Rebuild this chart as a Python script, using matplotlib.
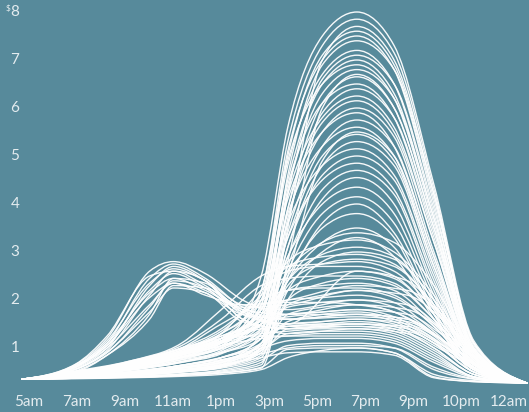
import numpy as np
import matplotlib
matplotlib.use("Agg")
import matplotlib.pyplot as plt
from matplotlib.path import Path
from matplotlib.patches import PathPatch

# every day starts at 5am and ends at 12am at the same price
START_HOUR, END_HOUR = 5, 24
START_VALUE, END_VALUE = 0.35, 0.27

x_labels = ["5am", "7am", "9am", "11am", "1pm", "3pm", "5pm", "7pm", "9pm", "10pm", "12am"]
y_labels = [1, 2, 3, 4, 5, 6, 7, 8]

# sample hours for the days below (between start and end)
evening_hours = [7, 9, 11, 12.5, 14, 15, 16.3, 17.6, 19, 20.5, 22]
morning_hours = [7, 8.2, 9.8, 10.7, 11.9, 13.3, 15, 17.6, 19.5, 21, 22.5]

# days with a big evening peak
peak_days = [
    [0.45, 0.6, 0.85, 1.1, 2.5, 5.6, 7.5, 8.0, 7.3, 4.4, 1.15],
    [0.48, 0.65, 0.9, 1.2, 2.2, 5.3, 7.3, 7.85, 7.15, 4.3, 1.1],
    [0.37, 0.4, 0.45, 0.5, 0.65, 3.5, 7.0, 7.7, 7.0, 4.2, 1.1],
    [0.42, 0.55, 0.75, 0.95, 1.9, 5.0, 7.1, 7.6, 6.9, 4.2, 1.1],
    [0.5, 0.7, 1.0, 1.3, 2.1, 5.1, 7.0, 7.5, 6.8, 4.0, 1.0],
    [0.4, 0.47, 0.58, 0.7, 1.3, 4.6, 6.9, 7.4, 6.8, 4.1, 1.1],
    [0.46, 0.62, 0.88, 1.15, 2.0, 4.8, 6.7, 7.2, 6.5, 3.8, 1.0],
    [0.38, 0.42, 0.5, 0.6, 1.0, 4.2, 6.6, 7.1, 6.5, 3.9, 1.05],
    [0.47, 0.64, 0.9, 1.2, 1.8, 4.5, 6.5, 7.0, 6.3, 3.7, 0.95],
    [0.45, 0.6, 0.82, 1.05, 2.2, 4.9, 6.5, 6.9, 6.2, 3.6, 0.95],
    [0.5, 0.68, 0.95, 1.25, 1.7, 4.3, 6.3, 6.8, 6.2, 3.7, 1.0],
    [0.37, 0.39, 0.43, 0.48, 0.58, 2.8, 6.0, 6.7, 6.0, 3.5, 0.95],
    [0.41, 0.5, 0.64, 0.8, 1.2, 3.9, 6.1, 6.65, 6.0, 3.5, 0.95],
    [0.46, 0.62, 0.86, 1.1, 1.9, 4.4, 6.1, 6.5, 5.8, 3.3, 0.9],
    [0.38, 0.43, 0.52, 0.62, 0.9, 3.6, 5.9, 6.4, 5.8, 3.4, 0.9],
    [0.48, 0.66, 0.92, 1.2, 1.8, 4.2, 5.8, 6.25, 5.6, 3.2, 0.85],
    [0.42, 0.53, 0.7, 0.88, 1.4, 3.9, 5.7, 6.15, 5.5, 3.2, 0.9],
    [0.39, 0.45, 0.55, 0.66, 1.1, 3.7, 5.5, 6.0, 5.4, 3.0, 0.85],
    [0.5, 0.7, 0.98, 1.3, 2.0, 4.1, 5.5, 5.9, 5.2, 2.9, 0.8],
    [0.4, 0.48, 0.6, 0.74, 1.0, 3.4, 5.2, 5.75, 5.2, 2.9, 0.85],
    [0.44, 0.58, 0.8, 1.02, 1.7, 3.8, 5.2, 5.6, 5.0, 2.7, 0.8],
    [0.37, 0.4, 0.46, 0.52, 0.7, 2.5, 4.9, 5.5, 5.0, 2.8, 0.8],
    [0.47, 0.64, 0.88, 1.15, 1.5, 3.3, 5.0, 5.45, 4.9, 2.7, 0.8],
    [0.39, 0.45, 0.55, 0.65, 1.0, 3.1, 4.8, 5.3, 4.8, 2.6, 0.75],
    [0.48, 0.66, 0.92, 1.2, 1.8, 3.6, 4.8, 5.15, 4.6, 2.5, 0.75],
    [0.41, 0.5, 0.64, 0.8, 1.2, 3.1, 4.6, 5.0, 4.5, 2.4, 0.7],
    [0.43, 0.57, 0.78, 1.0, 1.6, 3.3, 4.5, 4.85, 4.3, 2.3, 0.7],
    [0.5, 0.68, 0.95, 1.25, 1.5, 2.9, 4.3, 4.7, 4.2, 2.2, 0.65],
    [0.38, 0.42, 0.5, 0.58, 0.8, 2.7, 4.1, 4.55, 4.0, 2.1, 0.65],
    [0.44, 0.58, 0.8, 1.0, 1.5, 2.9, 4.0, 4.35, 3.8, 2.0, 0.6],
    [0.4, 0.47, 0.58, 0.7, 1.1, 2.6, 3.8, 4.15, 3.6, 1.9, 0.6],
    [0.42, 0.55, 0.72, 0.9, 1.2, 2.4, 3.6, 4.0, 3.4, 1.8, 0.55],
    [0.48, 0.66, 0.92, 1.2, 1.5, 2.5, 3.5, 3.8, 3.3, 1.7, 0.55],
    [0.45, 0.6, 0.82, 1.05, 1.4, 2.4, 3.2, 3.5, 3.1, 1.7, 0.55],
    [0.39, 0.44, 0.53, 0.63, 0.95, 2.2, 3.0, 3.3, 2.9, 1.6, 0.5],
]

# days that stay fairly flat through the evening
flat_days = [
    [0.47, 0.63, 0.88, 1.15, 1.6, 2.6, 3.2, 3.4, 3.2, 2.3, 0.9],
    [0.44, 0.58, 0.8, 1.05, 1.8, 2.8, 3.15, 3.25, 3.0, 2.1, 0.85],
    [0.46, 0.62, 0.86, 1.12, 1.5, 2.4, 2.95, 3.1, 2.9, 2.0, 0.8],
    [0.38, 0.42, 0.5, 0.6, 0.85, 2.0, 2.8, 3.0, 2.85, 2.0, 0.8],
    [0.5, 0.7, 1.0, 1.4, 2.1, 2.7, 2.9, 2.95, 2.75, 1.9, 0.8],
    [0.4, 0.48, 0.6, 0.74, 1.1, 2.3, 2.75, 2.85, 2.7, 1.9, 0.75],
    [0.5, 0.72, 1.1, 1.8, 2.5, 2.7, 2.75, 2.8, 2.6, 1.8, 0.75],
    [0.48, 0.66, 0.92, 1.3, 2.2, 2.6, 2.7, 2.7, 2.5, 1.7, 0.7],
    [0.42, 0.53, 0.7, 0.9, 1.3, 2.2, 2.5, 2.6, 2.45, 1.7, 0.7],
    [0.52, 0.72, 1.05, 1.6, 2.3, 2.45, 2.5, 2.5, 2.35, 1.6, 0.65],
    [0.39, 0.45, 0.55, 0.68, 1.0, 2.0, 2.35, 2.45, 2.3, 1.6, 0.65],
    [0.46, 0.62, 0.86, 1.12, 1.7, 2.2, 2.3, 2.35, 2.2, 1.5, 0.65],
    [0.49, 0.68, 0.96, 1.35, 2.0, 2.2, 2.25, 2.25, 2.1, 1.45, 0.6],
    [0.4, 0.48, 0.6, 0.75, 1.05, 1.9, 2.1, 2.2, 2.05, 1.45, 0.6],
    [0.47, 0.64, 0.88, 1.15, 1.6, 2.0, 2.05, 2.1, 1.95, 1.35, 0.6],
    [0.43, 0.55, 0.72, 0.92, 1.35, 1.85, 1.95, 2.0, 1.85, 1.3, 0.55],
    [0.5, 0.7, 1.0, 1.5, 1.9, 1.95, 1.95, 1.9, 1.75, 1.25, 0.55],
    [0.38, 0.43, 0.52, 0.62, 0.95, 1.7, 1.85, 1.9, 1.75, 1.3, 0.6],
    [0.46, 0.62, 0.85, 1.1, 1.5, 1.7, 1.75, 1.8, 1.65, 1.2, 0.55],
    [0.41, 0.5, 0.64, 0.8, 1.1, 1.55, 1.7, 1.75, 1.6, 1.15, 0.5],
    [0.48, 0.66, 0.92, 1.2, 1.55, 1.65, 1.7, 1.7, 1.55, 1.1, 0.5],
    [0.4, 0.47, 0.58, 0.72, 1.05, 1.5, 1.55, 1.6, 1.5, 1.1, 0.5],
    [0.43, 0.56, 0.76, 0.98, 1.25, 1.45, 1.5, 1.55, 1.45, 1.0, 0.45],
    [0.47, 0.64, 0.88, 1.15, 1.4, 1.45, 1.5, 1.5, 1.4, 1.0, 0.45],
    [0.39, 0.44, 0.53, 0.64, 0.9, 1.4, 1.45, 1.45, 1.35, 0.95, 0.45],
    [0.46, 0.62, 0.85, 1.1, 1.3, 1.35, 1.4, 1.4, 1.3, 0.9, 0.4],
    [0.4, 0.47, 0.58, 0.7, 0.95, 1.3, 1.35, 1.35, 1.25, 0.85, 0.4],
    [0.45, 0.6, 0.82, 1.05, 1.2, 1.25, 1.3, 1.3, 1.2, 0.8, 0.4],
    [0.48, 0.66, 0.92, 1.2, 1.25, 1.25, 1.25, 1.25, 1.15, 0.75, 0.4],
    [0.41, 0.5, 0.64, 0.8, 1.0, 1.15, 1.2, 1.2, 1.1, 0.7, 0.38],
    [0.37, 0.4, 0.46, 0.54, 0.75, 1.05, 1.1, 1.1, 1.0, 0.55, 0.35],
    [0.4, 0.49, 0.62, 0.76, 0.88, 1.0, 1.05, 1.05, 1.0, 0.6, 0.36],
    [0.37, 0.39, 0.43, 0.48, 0.6, 0.97, 1.0, 1.0, 0.9, 0.45, 0.32],
    [0.39, 0.45, 0.54, 0.65, 0.8, 0.9, 0.92, 0.92, 0.85, 0.38, 0.3],
    [0.36, 0.38, 0.41, 0.45, 0.55, 0.8, 0.95, 1.0, 0.9, 0.4, 0.3],
]

# days with a late-morning bump
morning_days = [
    [0.65, 1.2, 2.6, 2.8, 2.55, 2.0, 1.7, 1.8, 1.7, 1.2, 0.6],
    [0.6, 1.1, 2.45, 2.75, 2.45, 1.85, 1.6, 1.7, 1.6, 1.1, 0.55],
    [0.58, 1.0, 2.3, 2.7, 2.4, 1.75, 1.5, 2.6, 2.4, 1.5, 0.6],
    [0.62, 1.15, 2.35, 2.65, 2.4, 1.9, 1.8, 2.0, 1.9, 1.3, 0.6],
    [0.55, 0.95, 2.1, 2.6, 2.4, 1.6, 1.4, 1.5, 1.4, 1.0, 0.5],
    [0.6, 1.05, 2.2, 2.55, 2.25, 1.75, 1.6, 1.65, 1.55, 1.1, 0.5],
    [0.5, 0.85, 1.7, 2.45, 2.35, 1.7, 1.5, 1.6, 1.5, 1.1, 0.5],
    [0.63, 1.1, 2.15, 2.45, 2.2, 1.85, 1.9, 2.2, 2.1, 1.5, 0.65],
    [0.55, 0.9, 1.85, 2.4, 2.25, 1.6, 1.3, 1.4, 1.3, 0.9, 0.45],
    [0.6, 1.0, 1.9, 2.35, 2.15, 1.7, 1.6, 1.7, 1.6, 1.1, 0.5],
    [0.52, 0.85, 1.6, 2.3, 2.25, 1.8, 1.45, 1.5, 1.45, 1.0, 0.5],
    [0.62, 1.05, 2.05, 2.35, 2.1, 1.9, 2.0, 2.3, 2.2, 1.6, 0.7],
    [0.56, 0.92, 1.75, 2.25, 2.15, 1.55, 1.4, 1.45, 1.35, 0.95, 0.45],
    [0.66, 1.25, 2.5, 2.6, 2.3, 1.8, 1.7, 1.9, 1.8, 1.3, 0.6],
]

BG = "#578a9b"
TEXT = "#e4ecef"
plt.rcParams["font.family"] = ["Lato", "DejaVu Sans"]


def smooth_path(xs, ys):
    # monotone cubic through the points, as bezier segments
    xs = np.asarray(xs, float)
    ys = np.asarray(ys, float)
    h = np.diff(xs)
    s = np.diff(ys) / h
    t = np.zeros_like(ys)
    for i in range(1, len(xs) - 1):
        p = (s[i - 1] * h[i] + s[i] * h[i - 1]) / (h[i - 1] + h[i])
        t[i] = (np.sign(s[i - 1]) + np.sign(s[i])) * min(abs(s[i - 1]), abs(s[i]), 0.5 * abs(p))
    t[0] = (3 * s[0] - t[1]) / 2
    t[-1] = (3 * s[-1] - t[-2]) / 2
    verts = [(xs[0], ys[0])]
    codes = [Path.MOVETO]
    for i in range(len(xs) - 1):
        d = h[i] / 3
        verts += [(xs[i] + d, ys[i] + d * t[i]),
                  (xs[i + 1] - d, ys[i + 1] - d * t[i + 1]),
                  (xs[i + 1], ys[i + 1])]
        codes += [Path.CURVE4] * 3
    return Path(verts, codes)


W, H = 529, 412
fig = plt.figure(figsize=(W / 100, H / 100), dpi=100)
fig.patch.set_facecolor(BG)
ax = fig.add_axes([0, 0, 1, 1])
ax.set_facecolor(BG)
for sp in ax.spines.values():
    sp.set_visible(False)
ax.set_xticks([])
ax.set_yticks([])

# plot area: 5am at x=22px, 12am at x=527px; 0 at y=396px, 48px per dollar
px_per_hour = (527 - 22) / (END_HOUR - START_HOUR)
ax.set_xlim(START_HOUR - 22 / px_per_hour, START_HOUR + (W - 22) / px_per_hour)
ax.set_ylim((396 - H) / 48, 396 / 48)


def draw(hours, days):
    xs = [START_HOUR] + list(hours) + [END_HOUR]
    for row in days:
        ys = [START_VALUE] + list(row) + [END_VALUE]
        ax.add_patch(PathPatch(smooth_path(xs, ys), fill=False, edgecolor="white",
                               lw=1.0, alpha=0.95, capstyle="round"))


draw(evening_hours, flat_days)
draw(morning_hours, morning_days)
draw(evening_hours, peak_days)

# labels
for i, lab in enumerate(x_labels):
    fig.text((29 + 48 * i) / W, (H - 402) / H, lab, ha="center", va="center",
             color=TEXT, fontsize=11)
ytr = ax.get_yaxis_transform()
for v in y_labels:
    ax.text(15 / W, v, str(v), transform=ytr, ha="center", va="center",
            color=TEXT, fontsize=11)
ax.text(8 / W, 8.08, "$", transform=ytr, ha="center", va="center", color=TEXT, fontsize=6)

fig.savefig("out.png", dpi=100, facecolor=BG)
